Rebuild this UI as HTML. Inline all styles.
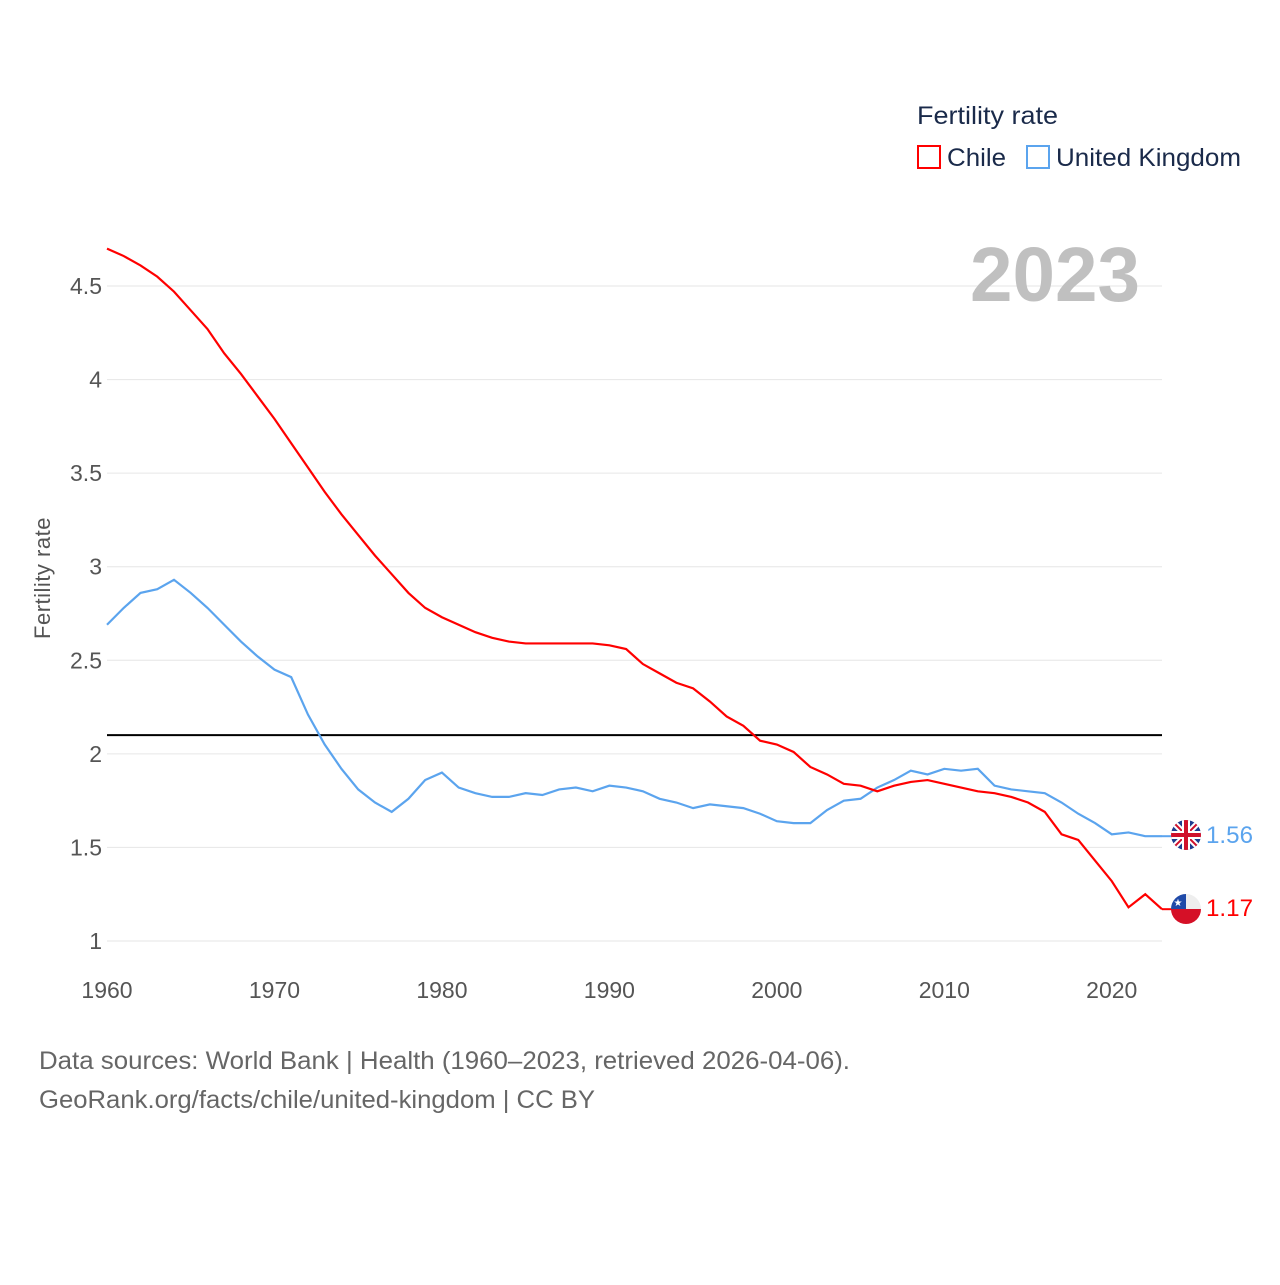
<!DOCTYPE html>
<html><head><meta charset="utf-8"><style>
body{margin:0;background:#fff;font-family:"Liberation Sans",sans-serif}
svg text{font-family:"Liberation Sans",sans-serif}
</style></head><body>
<svg id="chart" width="1280" height="1280" viewBox="0 0 1280 1280" xmlns="http://www.w3.org/2000/svg">
<defs>
<clipPath id="fc1"><circle cx="1186" cy="835" r="15"/></clipPath>
<clipPath id="fc2"><circle cx="1186" cy="909" r="15"/></clipPath>
</defs>
<g id="grid"></g>
<g id="ticks"></g>
<text x="1140" y="301" text-anchor="end" font-size="77" font-weight="bold" fill="#c0c0c0" textLength="170" lengthAdjust="spacingAndGlyphs">2023</text>
<line id="refline" stroke="#000" stroke-width="2"/>
<g id="series"></g>
<text transform="translate(50,578) rotate(-90)" text-anchor="middle" font-size="22" fill="#555" letter-spacing="0.5">Fertility rate</text>
<g>
<text x="917" y="124" font-size="25" fill="#1a2a4a" textLength="141" lengthAdjust="spacingAndGlyphs">Fertility rate</text>
<rect x="918" y="146" width="22" height="22" fill="none" stroke="red" stroke-width="2"/>
<text x="947" y="166" font-size="25" fill="#1a2a4a" textLength="59" lengthAdjust="spacingAndGlyphs">Chile</text>
<rect x="1027" y="146" width="22" height="22" fill="none" stroke="#5ba4ee" stroke-width="2"/>
<text x="1056" y="166" font-size="25" fill="#1a2a4a" textLength="185" lengthAdjust="spacingAndGlyphs">United Kingdom</text>
</g>
<g clip-path="url(#fc1)">
<rect x="1170" y="819" width="32" height="32" fill="#1f3c8f"/>
<path d="M1170 819L1202 851M1202 819L1170 851" stroke="#fff" stroke-width="6"/>
<path d="M1170 819L1202 851M1202 819L1170 851" stroke="#d0102b" stroke-width="2"/>
<path d="M1186 819V851M1170 835H1202" stroke="#fff" stroke-width="8"/>
<path d="M1186 819V851M1170 835H1202" stroke="#d0102b" stroke-width="4"/>
</g>
<g clip-path="url(#fc2)">
<rect x="1170" y="893" width="32" height="16" fill="#eee"/>
<rect x="1170" y="909" width="32" height="16" fill="#d51027"/>
<rect x="1170" y="893" width="16" height="16" fill="#1f4aa8"/>
<text x="1178" y="906" font-size="10" fill="#fff" text-anchor="middle">★</text>
</g>
<text id="ukval" x="1206" y="843" font-size="24" fill="#5ba4ee" textLength="47" lengthAdjust="spacingAndGlyphs">1.56</text>
<text id="clval" x="1206" y="916" font-size="24" fill="red" textLength="47" lengthAdjust="spacingAndGlyphs">1.17</text>
<text x="39" y="1069" font-size="25" fill="#666" textLength="811" lengthAdjust="spacingAndGlyphs">Data sources: World Bank | Health (1960–2023, retrieved 2026-04-06).</text>
<text x="39" y="1108" font-size="25" fill="#666" textLength="556" lengthAdjust="spacingAndGlyphs">GeoRank.org/facts/chile/united-kingdom | CC BY</text>
</svg>
<script>
const years=[];for(let y=1960;y<=2023;y++)years.push(y);
const chile=[4.70,4.66,4.61,4.55,4.47,4.37,4.27,4.14,4.03,3.91,3.79,3.66,3.53,3.40,3.28,3.17,3.06,2.96,2.86,2.78,2.73,2.69,2.65,2.62,2.60,2.59,2.59,2.59,2.59,2.59,2.58,2.56,2.48,2.43,2.38,2.35,2.28,2.20,2.15,2.07,2.05,2.01,1.93,1.89,1.84,1.83,1.80,1.83,1.85,1.86,1.84,1.82,1.80,1.79,1.77,1.74,1.69,1.57,1.54,1.43,1.32,1.18,1.25,1.17];
const uk=[2.69,2.78,2.86,2.88,2.93,2.86,2.78,2.69,2.60,2.52,2.45,2.41,2.21,2.05,1.92,1.81,1.74,1.69,1.76,1.86,1.90,1.82,1.79,1.77,1.77,1.79,1.78,1.81,1.82,1.80,1.83,1.82,1.80,1.76,1.74,1.71,1.73,1.72,1.71,1.68,1.64,1.63,1.63,1.70,1.75,1.76,1.82,1.86,1.91,1.89,1.92,1.91,1.92,1.83,1.81,1.80,1.79,1.74,1.68,1.63,1.57,1.58,1.56,1.56];
const yTicks=[1,1.5,2,2.5,3,3.5,4,4.5];
const yTickLabels=["1","1.5","2","2.5","3","3.5","4","4.5"];
const xTicks=[1960,1970,1980,1990,2000,2010,2020];
const refValue=2.1;
const NS="http://www.w3.org/2000/svg";
const X=y=>107+(y-1960)*(1055/63);
const Y=v=>941-(v-1)*(655/3.5);
const grid=document.getElementById('grid'),ticks=document.getElementById('ticks');
yTicks.forEach((t,i)=>{
 const l=document.createElementNS(NS,'line');
 
 
 l.setAttribute('x1',107);l.setAttribute('x2',1162);l.setAttribute('y1',Y(t));l.setAttribute('y2',Y(t));
 l.setAttribute('stroke','#e6e6e6');l.setAttribute('stroke-width','1');grid.appendChild(l);
 const tx=document.createElementNS(NS,'text');
 
 
 tx.setAttribute('x',102);tx.setAttribute('y',Y(t)+8);tx.setAttribute('text-anchor','end');
 tx.setAttribute('font-size','23');tx.setAttribute('fill','#555');tx.textContent=yTickLabels[i];ticks.appendChild(tx);
});
xTicks.forEach(t=>{
 const tx=document.createElementNS(NS,'text');
 
 
 tx.setAttribute('x',X(t));tx.setAttribute('y',998);tx.setAttribute('text-anchor','middle');
 tx.setAttribute('font-size','23');tx.setAttribute('fill','#555');tx.textContent=t;ticks.appendChild(tx);
});
const rl=document.getElementById('refline');
rl.setAttribute('x1',107);rl.setAttribute('x2',1162);rl.setAttribute('y1',Y(refValue));rl.setAttribute('y2',Y(refValue));
const ser=document.getElementById('series');
function line(data,color,name){
 const p=document.createElementNS(NS,'polyline');
 
 
 p.setAttribute('points',data.map((v,i)=>X(years[i])+','+Y(v)).join(' '));
 p.setAttribute('fill','none');p.setAttribute('stroke',color);p.setAttribute('stroke-width','2.2');
 ser.appendChild(p);
 const last=data[data.length-1];
 const c=document.createElementNS(NS,'line');
 
 
 c.setAttribute('x1',X(2023));c.setAttribute('x2',1172);c.setAttribute('y1',Y(last));c.setAttribute('y2',Y(last));
 c.setAttribute('stroke',color);c.setAttribute('stroke-width','2');ser.appendChild(c);
}
line(uk,'#5ba4ee','uk-line');
line(chile,'red','chile-line');
document.getElementById('ukval').textContent=uk[uk.length-1].toFixed(2);
document.getElementById('clval').textContent=chile[chile.length-1].toFixed(2);
</script>
</body></html>
